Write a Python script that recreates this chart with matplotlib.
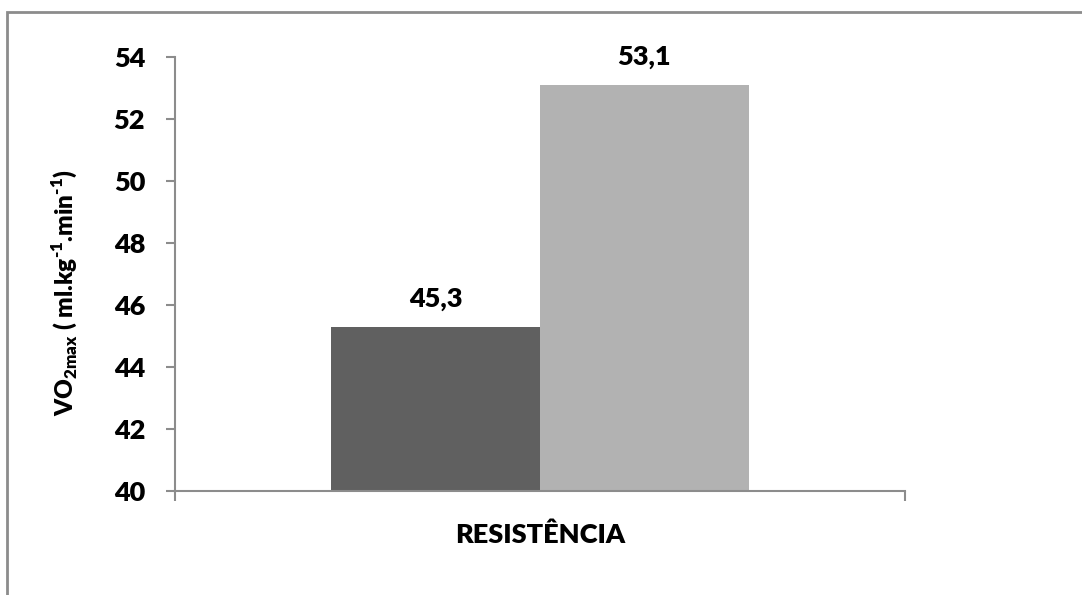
import matplotlib
matplotlib.use('Agg')
import matplotlib.pyplot as plt
from matplotlib.patches import Rectangle

plt.rcParams['font.family'] = ['Lato', 'DejaVu Sans']
plt.rcParams['mathtext.fontset'] = 'custom'
plt.rcParams['mathtext.rm'] = 'Lato:extrabold'
plt.rcParams['mathtext.bf'] = 'Lato:extrabold'

category = 'RESISTÊNCIA'
values = [45.3, 53.1]
value_labels = ['45,3', '53,1']
colors = ['#606060', '#b2b2b2']
yticks = [40, 42, 44, 46, 48, 50, 52, 54]

axis_gray = '#8c8c8c'
fsize = 19.5
weight = 800

fig = plt.figure(figsize=(10.82, 5.95), dpi=100)
ax = fig.add_axes([0.1617, 0.1748, 0.6747, 0.7294])

# two bars side by side inside one category (gap width 75%)
bar_w = 1 / 1.75 / 2
offsets = [-bar_w / 2, bar_w / 2]
for off, v, c, lab in zip(offsets, values, colors, value_labels):
    ax.bar(off, v - 40, bottom=40, width=bar_w, color=c, zorder=2)
    ax.annotate(lab, (off, v), xytext=(0, 14.4), textcoords='offset points',
                ha='center', va='baseline', family='Lato',
                fontsize=fsize, fontweight=weight)

ax.set_xlim(-0.5, 0.5)
ax.set_ylim(40, 54)
ax.set_yticks(yticks)
ax.set_yticklabels([str(t) for t in yticks], family='Lato',
                   fontsize=fsize, fontweight=weight)

ax.set_xticks([-0.5, 0.5])
ax.set_xticklabels(['', ''])
ax.set_xticks([0], minor=True)
ax.set_xticklabels([category], minor=True, family='Lato',
                   fontsize=fsize, fontweight=weight)
ax.tick_params(axis='x', which='minor', length=0, pad=23)
ax.tick_params(axis='x', which='major', length=7, width=1.5, color=axis_gray, direction='out')
ax.tick_params(axis='y', length=6.5, width=1.5, color=axis_gray, pad=15)

for s in ['top', 'right']:
    ax.spines[s].set_visible(False)
for s in ['left', 'bottom']:
    ax.spines[s].set_color(axis_gray)
    ax.spines[s].set_linewidth(1.5)

fig.text(64 / 1082, 1 - 293 / 595,
         r'VO$_{\mathregular{2max}}$ ( ml.kg$^{\mathregular{\text{-}1}}$.min$^{\mathregular{\text{-}1}}$)',
         rotation=90, ha='center', va='center', family='Lato',
         fontsize=17.5, fontweight=weight)

# chart frame (only left and top edges fall inside the image)
fig.patches.append(Rectangle((7 / 1082, -0.1), 1.2, 1 - 12 / 595 + 0.1,
                             transform=fig.transFigure, fill=False,
                             edgecolor=axis_gray, linewidth=2))

fig.savefig('out.png', dpi=100)
